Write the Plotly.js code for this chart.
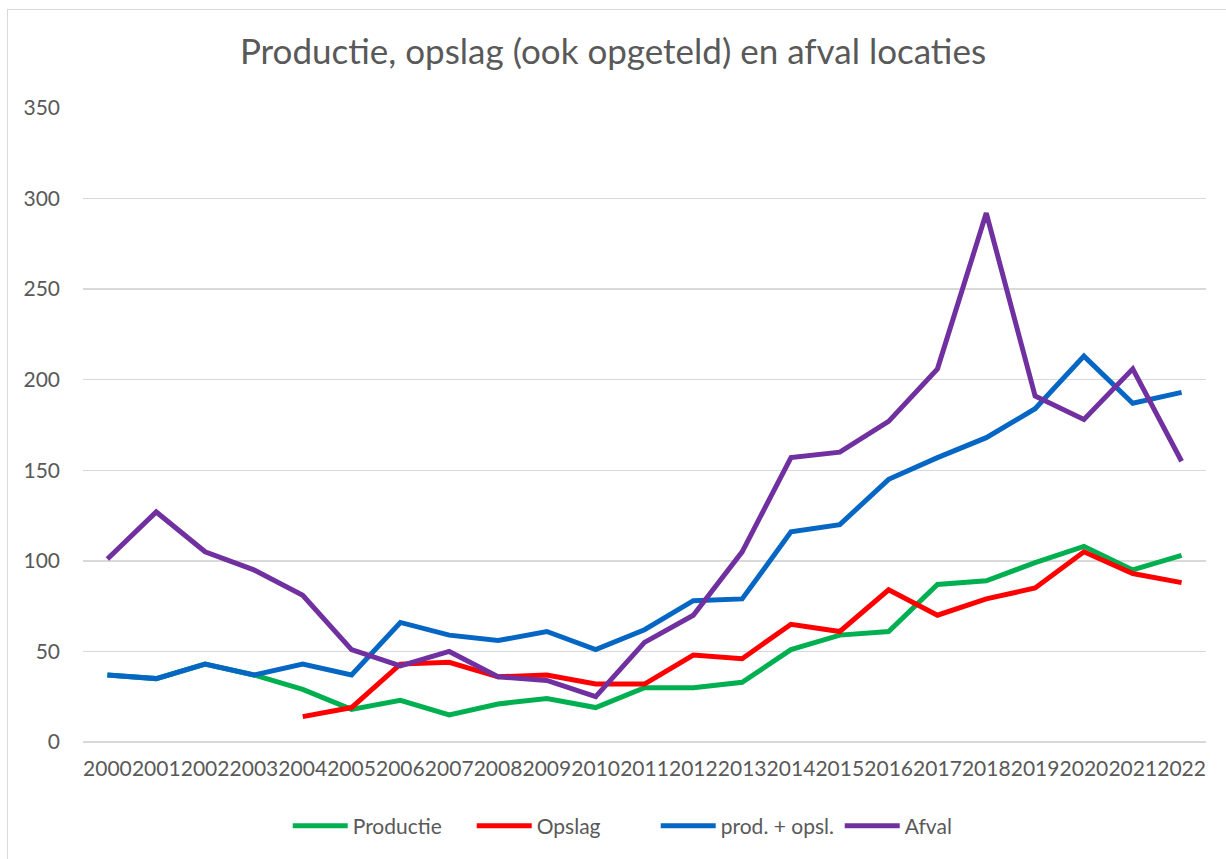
<!DOCTYPE html>
<html>
<head>
<meta charset="utf-8">
<script src="https://cdn.plot.ly/plotly-3.0.1.min.js"></script>
<style>
  body { margin: 0; background: #fff; }
  #myDiv { width: 1226px; height: 859px; }
  #frame { position: absolute; left: 7px; top: 9px; width: 1240px; height: 900px; border: 1px solid #d9d9d9; pointer-events: none; }
</style>
</head>
<body>
<div id="myDiv"></div>
<div id="frame"></div>
<script>
var years = ['2000', '2001', '2002', '2003', '2004', '2005', '2006', '2007', '2008', '2009', '2010', '2011',
  '2012', '2013', '2014', '2015', '2016', '2017', '2018', '2019', '2020', '2021', '2022'];

var productie = [37, 35, 43, 37, 29, 18, 23, 15, 21, 24, 19, 30, 30, 33, 51, 59, 61, 87, 89, 99, 108, 95, 103];
var opslag = [null, null, null, null, 14, 19, 43, 44, 36, 37, 32, 32, 48, 46, 65, 61, 84, 70, 79, 85, 105, 93, 88];
var prodOpsl = [37, 35, 43, 37, 43, 37, 66, 59, 56, 61, 51, 62, 78, 79, 116, 120, 145, 157, 168, 184, 213, 187, 193];
var afval = [101, 127, 105, 95, 81, 51, 42, 50, 36, 34, 25, 55, 70, 105, 157, 160, 177, 206, 292, 191, 178, 206, 155];

function serie(y, name, color) {
  return {
    x: years,
    y: y,
    name: name,
    type: 'scatter',
    mode: 'lines',
    line: {color: color, width: 5},
    hoverinfo: 'x+y+name'
  };
}

var data = [
  serie(productie, 'Productie', '#00B050'),
  serie(opslag, 'Opslag', '#FF0000'),
  serie(prodOpsl, 'prod. + opsl.', '#0566C4'),
  serie(afval, 'Afval', '#7030A0')
];

var layout = {
  width: 1226,
  height: 859,
  font: {family: 'Lato, "Liberation Sans", sans-serif', color: '#595959', size: 20},
  title: {
    text: 'Productie, opslag (ook opgeteld) en afval locaties',
    font: {size: 35, color: '#595959'},
    x: 0.5,
    xanchor: 'center',
    y: 0.9395,
    yanchor: 'middle'
  },
  margin: {l: 83, r: 20, t: 108, b: 117},
  paper_bgcolor: '#fff',
  plot_bgcolor: '#fff',
  showlegend: true,
  legend: {
    orientation: 'h',
    x: 0.51,
    xanchor: 'center',
    y: -0.1325,
    yanchor: 'middle',
    itemwidth: 55,
    entrywidth: 114,
    font: {size: 21, color: '#595959'},
    traceorder: 'normal'
  },
  xaxis: {
    type: 'category',
    range: [-0.5, 22.5],
    tickangle: 0,
    showgrid: false,
    showline: false,
    ticks: '',
    ticklabelstandoff: 12,
    tickfont: {size: 21, color: '#595959'}
  },
  yaxis: {
    range: [0, 350],
    dtick: 50,
    showgrid: true,
    gridcolor: '#d9d9d9',
    gridwidth: 1.5,
    zeroline: true,
    zerolinecolor: '#d9d9d9',
    zerolinewidth: 1.5,
    showline: false,
    ticks: '',
    ticklabelstandoff: 22,
    tickfont: {size: 21, color: '#595959'}
  }
};

Plotly.newPlot('myDiv', data, layout, {displayModeBar: false, staticPlot: true});
</script>
</body>
</html>
